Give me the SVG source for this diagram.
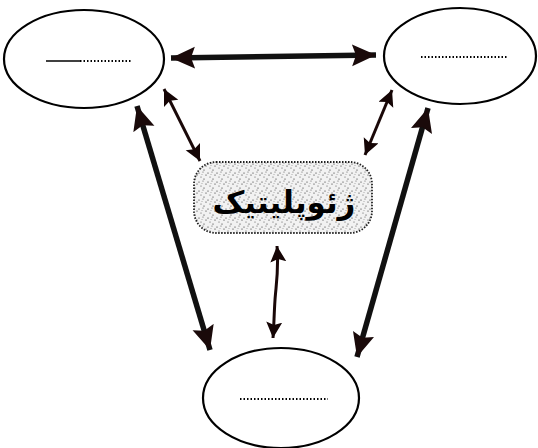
<svg xmlns="http://www.w3.org/2000/svg" width="538" height="448" viewBox="0 0 538 448">
<style>
.ell{fill:none;stroke:#000;stroke-width:2.2}
.dots{stroke:#000;stroke-width:2;stroke-dasharray:1.5 2;fill:none}
.thick{stroke:#111;stroke-width:5.5;fill:none;marker-start:url(#bigA);marker-end:url(#bigA)}
.thin{stroke:#1a0808;stroke-width:3;fill:none;marker-start:url(#smA);marker-end:url(#smA)}
</style>
<defs>
<marker id="bigA" markerUnits="userSpaceOnUse" markerWidth="26" markerHeight="24" refX="24" refY="11" orient="auto-start-reverse">
<path d="M0,0 L24,11 L0,22 L4,11 z" fill="#1a0a0a"/>
</marker>
<marker id="smA" markerUnits="userSpaceOnUse" markerWidth="18" markerHeight="18" refX="16" refY="8" orient="auto-start-reverse">
<path d="M0,0 L16,8 L0,16 L3,8 z" fill="#150505"/>
</marker>
<pattern id="stip" width="9" height="9" patternUnits="userSpaceOnUse">
<rect width="9" height="9" fill="#f2f2f2"/>
<circle cx="1" cy="2" r="0.6" fill="#222"/>
<circle cx="5" cy="1" r="0.5" fill="#444"/>
<circle cx="8" cy="4" r="0.6" fill="#222"/>
<circle cx="3" cy="6" r="0.5" fill="#333"/>
<circle cx="6" cy="8" r="0.6" fill="#222"/>
<circle cx="4" cy="3.5" r="0.4" fill="#555"/>
</pattern>
</defs>
<rect width="538" height="448" fill="#fff"/>
<g id="connectors">
<line class="thick" x1="171" y1="58" x2="376" y2="55"/>
<line class="thick" x1="137" y1="106" x2="210" y2="350"/>
<line class="thick" x1="428" y1="108" x2="357" y2="357"/>
<line class="thin" x1="164" y1="89" x2="200" y2="161"/>
<line class="thin" x1="392" y1="90" x2="365" y2="155"/>
<path class="thin" d="M277,246 C279,270 276,285 275,300 C274,315 274,325 273,338"/>
</g>
<g id="node-left">
<ellipse class="ell" cx="84" cy="59" rx="80" ry="49"/>
<line x1="46" y1="61" x2="80" y2="61" stroke="#000" stroke-width="1.5"/>
<line class="dots" x1="80" y1="61" x2="132" y2="61"/>
</g>
<g id="node-right">
<ellipse class="ell" cx="460" cy="56" rx="76" ry="48"/>
<line class="dots" x1="421" y1="57" x2="508" y2="57"/>
</g>
<g id="node-bottom">
<ellipse class="ell" cx="281" cy="398" rx="78" ry="50"/>
<line class="dots" x1="240" y1="399" x2="328" y2="399"/>
</g>
<g id="node-center">
<rect x="194" y="162" width="178" height="71" rx="22" fill="url(#stip)" stroke="#222" stroke-width="1.8" stroke-dasharray="1.5 1.5"/>
<text x="284" y="213" font-size="31" font-weight="bold" text-anchor="middle" font-family="'DejaVu Sans',sans-serif">ژئوپلیتیک</text>
</g>
</svg>
